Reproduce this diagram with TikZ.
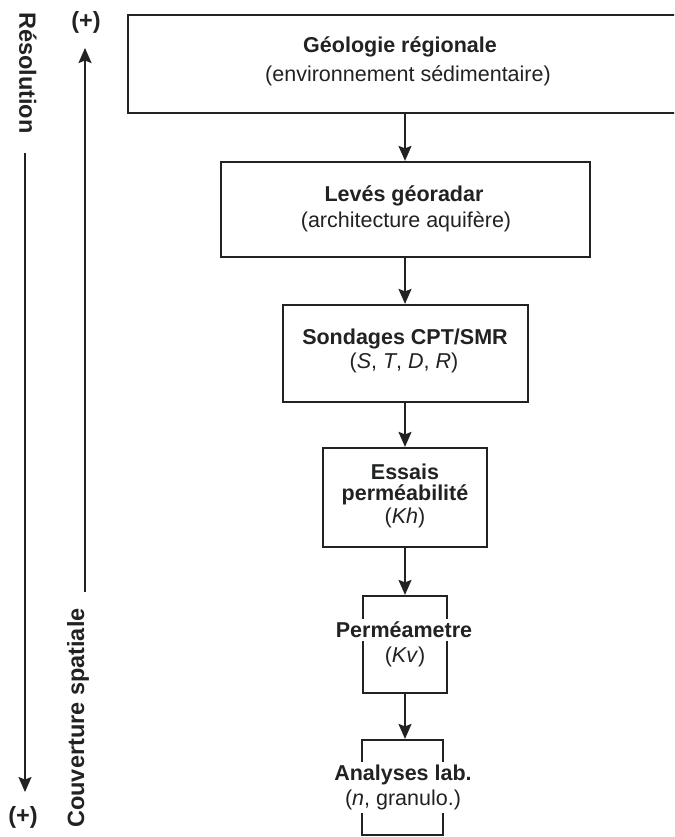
\documentclass[tikz,border=0pt]{standalone}
\usepackage{fontspec}
\setmainfont{Liberation Sans}
\usetikzlibrary{arrows.meta}
\definecolor{ink}{RGB}{32,35,34}
\begin{document}
\begin{tikzpicture}[x=1pt,y=1pt,
  box/.style={draw=ink, line width=2.2pt, inner sep=0pt, minimum width=#1},
  lbl/.style={text=ink, fill=white, inner xsep=1pt, inner ysep=3pt, font=\fontsize{21.5}{25}\selectfont},
  side/.style={text=ink, inner sep=0pt, font=\fontsize{23.5}{27}\selectfont\bfseries},
  arr/.style={draw=ink, line width=1.8pt, -{Stealth[length=15pt,width=13pt,inset=2.5pt]}}
]
\useasboundingbox (0,0) rectangle (674,-837);
\clip (0,0) rectangle (674,-837);
\fill[white] (0,0) rectangle (674,-837);

% boxes
\node[box=554pt, minimum height=98pt] (b1) at (405,-64) {};
\node[box=369pt, minimum height=95pt] (b2) at (405.5,-209.5) {};
\node[box=245pt, minimum height=97pt] (b3) at (405.5,-353.5) {};
\node[box=164pt, minimum height=99pt] (b4) at (405,-497.5) {};
\node[box=84pt, minimum height=97pt] (b5) at (405,-644.5) {};
\node[box=81pt, minimum height=95pt] (b6) at (402.5,-787.5) {};

% texts
\node[lbl] (t1a) at (400,-47) {\bfseries Géologie régionale};
\node[lbl] (t1b) at (408,-76) {(environnement sédimentaire)};
\node[lbl] (t2a) at (404,-196) {\bfseries Levés géoradar};
\node[lbl] (t2b) at (406,-222) {(architecture aquifère)};
\node[lbl] (t3a) at (405,-339) {\bfseries Sondages CPT/SMR};
\node[lbl] (t3b) at (404,-363) {(\textit{S}, \textit{T}, \textit{D}, \textit{R})};
\node[lbl] (t4a) at (405,-472) {\bfseries Essais};
\node[lbl] (t4b) at (405,-495) {\bfseries perméabilité};
\node[lbl] (t4c) at (405,-518) {(\textit{Kh})};
\node[lbl] (t5a) at (404,-630) {\bfseries Perméametre};
\node[lbl] (t5b) at (405,-657) {(\textit{Kv})};
\node[lbl] (t6a) at (403,-775) {\bfseries Analyses lab.};
\node[lbl] (t6b) at (403,-800) {(\textit{n}, granulo.)};

% connectors
\draw[arr] (b1.south -| b1.center) -- (b1.south |- b2.north);
\draw[arr] (b2.south -| b1.center) -- (b1.center |- b3.north);
\draw[arr] (b3.south -| b1.center) -- (b1.center |- b4.north);
\draw[arr] (b4.south -| b1.center) -- (b1.center |- b5.north);
\draw[arr] (b5.south -| b1.center) -- (b1.center |- b6.north);

% left scales
\node[side, rotate=-90] (res) at (28,-73) {Résolution};
\coordinate (r1) at (25,-153);
\coordinate (r2) at (25,-792);
\draw[arr] (r1) -- (r2);
\node[side] (pb) at (23,-817) {(+)};

\node[side] (pt) at (86,-22) {(+)};
\coordinate (c1) at (85,-592);
\coordinate (c2) at (85,-48);
\draw[arr] (c1) -- (c2);
\node[side, rotate=90] (cov) at (78,-718) {Couverture spatiale};
\end{tikzpicture}
\end{document}
